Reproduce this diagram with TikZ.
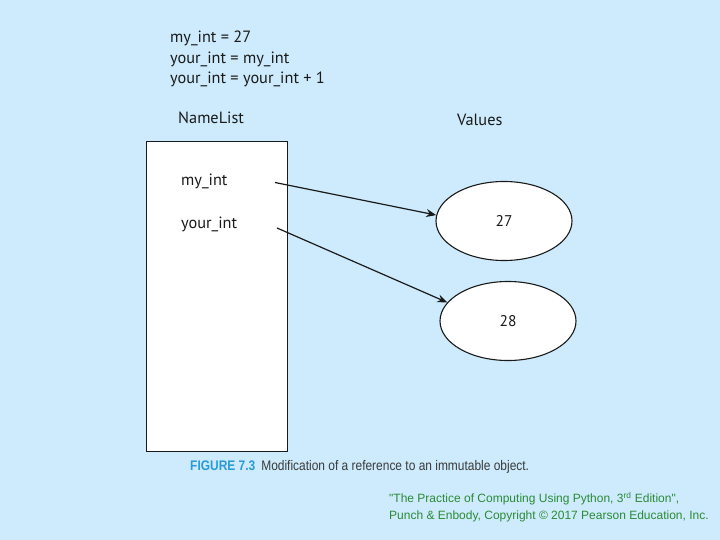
\documentclass[tikz,border=0pt]{standalone}
\usepackage{fontspec}
\setmainfont{PT Sans}
\newfontfamily\capfont[FakeStretch=0.86]{Liberation Sans}
\newfontfamily\copyfont{Liberation Sans}
\usetikzlibrary{shapes.geometric,arrows.meta}
\definecolor{bgblue}{HTML}{CDEBFC}
\definecolor{capblue}{HTML}{2A9AD8}
\definecolor{capgrey}{HTML}{3A3A3A}
\definecolor{copygreen}{HTML}{2A8A35}
\definecolor{ink}{HTML}{1A1A1A}
\tikzset{
  codetext/.style={anchor=base west, inner sep=0pt, text=ink, font=\fontsize{16.3bp}{19bp}\selectfont},
  valbox/.style={draw=ink, fill=white, ellipse, line width=1.1bp, minimum width=136bp, minimum height=79bp, inner sep=0pt, text=ink, font=\fontsize{15.5bp}{17bp}\selectfont},
  listbox/.style={draw=ink, fill=white, rectangle, line width=1bp, minimum width=141bp, minimum height=309bp, inner sep=0pt},
  refarrow/.style={draw=ink, line width=1.2bp, -{Stealth[length=10bp, width=8bp]}},
}
\begin{document}
\begin{tikzpicture}[x=1bp, y=-1bp]
\fill[bgblue] (0,0) rectangle (720,540);
\useasboundingbox (0,0) rectangle (720,540);

\node[codetext] (l1) at (170,43) {my\_int = 27};
\node[codetext] (l2) at (170,63.5) {your\_int = my\_int};
\node[codetext] (l3) at (170,84) {your\_int = your\_int + 1};

\node[codetext] (nl) at (178,124) {NameList};
\node[codetext] (vl) at (457,126) {Values};

\node[listbox] (namelist) at (216.5,296.5) {};
\node[codetext] (myint) at (181,186) {my\_int};
\node[codetext] (yourint) at (181,229) {your\_int};

\node[valbox] (e1) at (504,221) {27};
\node[valbox] (e2) at (508,321) {28};

\coordinate (s1) at (275,182.5);
\coordinate (s2) at (277,228);
\draw[refarrow] (s1) -- (e1.175);
\draw[refarrow] (s2) -- (e2.163);

\node[anchor=base west, inner sep=0pt, font=\capfont\fontsize{13.9bp}{16bp}\selectfont] (cap) at (190,470.5)
  {\textcolor{capblue}{\bfseries FIGURE 7.3}\hspace{6bp}\textcolor{capgrey}{Modification of a reference to an immutable object.}};

\node[anchor=base west, inner sep=0pt, align=left, text=copygreen, font=\copyfont\fontsize{12bp}{16.5bp}\selectfont] (copy) at (389,519)
  {"The Practice of Computing Using Python, 3\textsuperscript{rd} Edition",\\Punch \& Enbody, Copyright \textcopyright{} 2017 Pearson Education, Inc.};
\end{tikzpicture}
\end{document}
